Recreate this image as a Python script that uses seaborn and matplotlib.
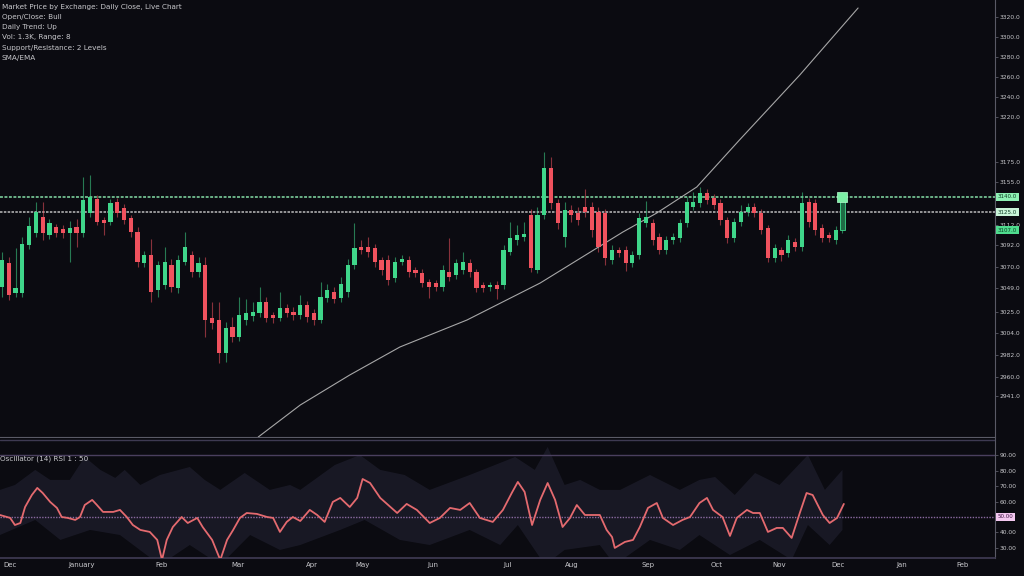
import matplotlib
matplotlib.use("Agg")
import matplotlib.pyplot as plt
import matplotlib.transforms as mtransforms
import numpy as np
import pandas as pd
import seaborn as sns

# candle data (one per session)
opens = [3050, 3074, 3044, 3044, 3092, 3104, 3120, 3102, 3110, 3108, 3104, 3110, 3104, 3124, 3138,
         3117, 3115, 3135, 3129, 3119, 3105, 3074, 3082, 3047, 3052, 3072, 3049, 3075, 3082, 3065,
         3072, 3019, 3017, 2984, 3010, 3000, 3017, 3021, 3024, 3035, 3022, 3019, 3029, 3025, 3022,
         3032, 3024, 3017, 3039, 3045, 3039, 3045, 3072, 3090, 3090, 3089, 3077, 3077, 3059, 3075,
         3077, 3067, 3064, 3055, 3054, 3050, 3065, 3062, 3067, 3074, 3065, 3052, 3050, 3052, 3052,
         3085, 3097, 3100, 3122, 3067, 3122, 3169, 3134, 3100, 3127, 3124, 3130, 3130, 3125, 3124,
         3077, 3087, 3087, 3074, 3082, 3114, 3114, 3100, 3087, 3097, 3099, 3114, 3130, 3134, 3144,
         3139, 3134, 3117, 3099, 3115, 3125, 3130, 3124, 3109, 3079, 3087, 3084, 3095, 3090, 3135,
         3134, 3109, 3102, 3097, 3107]
closes = [3077, 3042, 3049, 3093, 3111, 3125, 3104, 3114, 3104, 3104, 3109, 3104, 3137, 3140, 3115,
          3114, 3134, 3124, 3117, 3105, 3075, 3082, 3045, 3072, 3075, 3050, 3077, 3090, 3065, 3074,
          3017, 3014, 2984, 3009, 3000, 3022, 3024, 3025, 3035, 3019, 3019, 3029, 3024, 3022, 3032,
          3020, 3017, 3040, 3047, 3038, 3053, 3072, 3089, 3087, 3085, 3075, 3067, 3057, 3075, 3078,
          3065, 3064, 3054, 3050, 3050, 3067, 3060, 3074, 3075, 3065, 3049, 3049, 3052, 3048, 3087,
          3099, 3102, 3103, 3069, 3122, 3169, 3134, 3114, 3127, 3122, 3117, 3125, 3107, 3090, 3079,
          3087, 3084, 3074, 3082, 3119, 3120, 3097, 3087, 3097, 3100, 3114, 3135, 3135, 3144, 3137,
          3132, 3117, 3099, 3115, 3125, 3130, 3124, 3107, 3079, 3089, 3082, 3097, 3090, 3134, 3115,
          3107, 3099, 3099, 3107, 3140]
highs = [3085, 3080, 3089, 3100, 3120, 3135, 3135, 3118, 3113, 3112, 3116, 3118, 3160, 3162, 3142,
         3120, 3138, 3139, 3133, 3122, 3110, 3086, 3098, 3076, 3090, 3078, 3082, 3105, 3086, 3080,
         3080, 3035, 3035, 3015, 3020, 3040, 3038, 3035, 3050, 3040, 3025, 3045, 3033, 3030, 3042,
         3036, 3028, 3055, 3053, 3050, 3060, 3078, 3114, 3097, 3100, 3093, 3080, 3082, 3080, 3082,
         3081, 3070, 3068, 3058, 3057, 3072, 3099, 3078, 3085, 3078, 3068, 3055, 3055, 3056, 3092,
         3115, 3112, 3115, 3128, 3130, 3185, 3180, 3138, 3135, 3132, 3130, 3148, 3135, 3130, 3128,
         3092, 3090, 3091, 3086, 3124, 3136, 3118, 3104, 3101, 3104, 3118, 3140, 3145, 3150, 3148,
         3143, 3138, 3120, 3119, 3132, 3134, 3134, 3128, 3112, 3093, 3090, 3102, 3099, 3145, 3139,
         3138, 3113, 3105, 3111, 3145]
lows = [3040, 3037, 3040, 3040, 3088, 3100, 3097, 3098, 3100, 3099, 3075, 3090, 3100, 3120, 3112,
        3102, 3112, 3120, 3113, 3100, 3070, 3070, 3035, 3040, 3048, 3045, 3044, 3072, 3060, 3060,
        3000, 3008, 2974, 2975, 2995, 2996, 3012, 3016, 3020, 3015, 3014, 3016, 3020, 3017, 3018,
        3015, 3012, 3014, 3035, 3034, 3035, 3040, 3068, 3083, 3080, 3070, 3062, 3052, 3055, 3072,
        3060, 3060, 3050, 3039, 3046, 3046, 3056, 3058, 3063, 3060, 3045, 3045, 3046, 3038, 3048,
        3082, 3092, 3096, 3065, 3064, 3118, 3128, 3108, 3090, 3115, 3112, 3120, 3100, 3085, 3072,
        3073, 3080, 3066, 3070, 3078, 3110, 3092, 3083, 3083, 3093, 3095, 3110, 3127, 3130, 3133,
        3128, 3112, 3094, 3095, 3111, 3121, 3120, 3103, 3075, 3075, 3076, 3080, 3086, 3086, 3110,
        3102, 3095, 3095, 3093, 3104]

resistance = 3140
support = 3125

# rising curve drawn across the chart
trend_x = [37.8, 44.0, 51.3, 58.7, 68.6, 79.4, 91.6, 96.6, 102.5, 108.8, 117.7, 126.3]
trend_y = [2900, 2932, 2962, 2990, 3017, 3054, 3105, 3124, 3150, 3197, 3262, 3329]

price_ticks = [3320, 3300, 3280, 3260, 3240, 3220, 3175, 3155, 3112, 3092, 3070, 3049,
               3025, 3004, 2982, 2960, 2941]

# oscillator pane
osc_x = [-0.3, 1.2, 1.9, 2.7, 3.4, 4.4, 5.2, 6.0, 7.1, 8.1, 8.8, 9.7, 10.8, 11.5, 12.2, 13.3,
         14.0, 14.9, 16.4, 17.4, 18.4, 19.3, 20.4, 21.8, 22.9, 23.6, 24.3, 25.2, 26.5, 27.4, 28.8,
         29.6, 31.0, 32.2, 33.2, 34.1, 35.1, 36.1, 37.6, 39.1, 40.0, 41.0, 42.0, 42.9, 44.0, 45.4,
         46.5, 47.6, 48.8, 49.9, 51.3, 52.4, 53.2, 54.3, 55.8, 58.3, 59.7, 61.2, 63.1, 64.6, 66.1,
         67.6, 69.0, 70.5, 72.4, 73.9, 75.2, 76.1, 77.1, 78.2, 79.4, 80.5, 81.6, 82.7, 83.8, 84.8,
         86.0, 88.2, 89.2, 90.0, 90.4, 91.9, 93.1, 94.1, 95.3, 96.6, 97.5, 99.0, 100.4, 101.5, 102.9,
         104.0, 104.9, 106.3, 107.4, 108.4, 109.9, 110.8, 111.8, 113.0, 114.3, 115.2, 116.5, 117.7,
         118.7, 119.6, 121.1, 122.1, 123.2, 124.2]
osc_val = [51.3, 49.4, 44.8, 46.1, 56.5, 64.3, 68.9, 65.6, 59.8, 55.9, 50.0, 49.4, 48.1, 50.0, 57.8,
           61.1, 57.8, 53.3, 53.3, 54.6, 50.0, 44.8, 41.6, 40.3, 35.1, 22.1, 35.1, 43.5, 50.0, 46.1,
           49.4, 43.5, 35.1, 22.1, 35.1, 41.6, 49.4, 52.6, 52.0, 50.0, 49.4, 40.3, 46.8, 50.0, 47.4,
           54.6, 51.3, 46.8, 59.8, 62.4, 56.5, 62.4, 74.7, 72.1, 62.4, 52.6, 58.5, 54.6, 46.1, 49.4,
           55.9, 54.6, 59.1, 49.4, 46.8, 54.6, 65.6, 72.8, 66.3, 44.8, 61.1, 72.1, 61.1, 43.5, 49.4,
           57.8, 51.3, 51.3, 41.6, 37.0, 29.9, 33.8, 35.1, 43.5, 55.9, 59.1, 49.4, 44.8, 48.1, 50.0,
           59.1, 62.4, 54.6, 50.0, 37.7, 49.4, 54.6, 52.6, 52.6, 40.3, 42.9, 42.9, 36.4, 52.6, 65.6,
           64.3, 51.3, 46.1, 49.4, 58.5]

band_up_x = [-0.3, 1.9, 4.9, 7.1, 10.0, 12.2, 14.5, 16.7, 18.1, 20.4, 23.3, 27.7, 29.9, 32.2, 35.8,
             39.5, 42.5, 44.0, 49.1, 52.8, 55.8, 59.4, 63.1, 69.0, 75.7, 78.6, 80.5, 83.0, 85.3,
             88.2, 91.2, 95.6, 100.0, 102.9, 105.2, 108.1, 111.1, 114.7, 118.9, 121.4, 124.0]
band_up = [67.6, 70.8, 80.6, 74.1, 74.1, 89.0, 80.6, 75.4, 80.6, 70.8, 77.3, 82.5, 74.1, 67.6, 78.6,
           67.6, 70.8, 67.6, 83.8, 90.3, 80.6, 77.3, 67.6, 77.3, 89.0, 80.6, 95.5, 70.8, 74.1,
           67.6, 67.6, 77.3, 67.6, 74.1, 76.0, 64.3, 78.6, 70.8, 90.3, 67.6, 80.6]
band_lo_x = [-0.3, 4.9, 8.6, 13.0, 17.4, 23.3, 27.7, 32.2, 36.6, 41.0, 44.0, 49.9, 53.5, 58.7, 63.1,
             69.0, 73.5, 76.1, 80.1, 83.0, 88.2, 90.4, 95.6, 100.0, 102.9, 107.4, 111.8, 116.5,
             118.9, 122.1, 124.0]
band_lo = [38.3, 48.1, 35.1, 41.6, 38.3, 18.8, 31.8, 18.8, 38.3, 28.6, 31.8, 41.6, 48.1, 35.1, 31.8,
           41.6, 31.8, 44.8, 18.8, 28.6, 31.8, 18.8, 35.1, 28.6, 38.3, 25.3, 35.1, 22.1, 44.8,
           31.8, 41.6]

osc_ticks = [90, 80, 70, 60, 40, 30]

date_pos = [1.2, 11.8, 23.6, 34.8, 45.7, 53.2, 63.6, 74.6, 84.1, 95.3, 105.5, 114.7, 123.3, 132.7, 141.7]
date_labels = ["Dec", "January", "Feb", "Mar", "Apr", "May", "Jun", "Jul", "Aug", "Sep", "Oct",
               "Nov", "Dec", "Jan", "Feb"]

info_lines = ["Market Price by Exchange: Daily Close, Live Chart",
              "Open/Close: Bull",
              "Daily Trend: Up",
              "Vol: 1.3K, Range: 8",
              "Support/Resistance: 2 Levels",
              "SMA/EMA"]

BG = "#0b0b11"
GREEN = "#3fd68a"
RED = "#f0525e"
AXIS = "#5a5a66"
TXT = "#c8c8cc"

sns.set_theme(style="dark", rc={"axes.facecolor": BG, "figure.facecolor": BG})
plt.rcParams["font.family"] = ["DejaVu Sans"]

df = pd.DataFrame({"open": opens, "close": closes, "high": highs, "low": lows})
df["idx"] = np.arange(len(df))
df["up"] = df["close"] >= df["open"]

fig = plt.figure(figsize=(10.24, 5.76), dpi=100)
ax = fig.add_axes([0.0, 1 - 437 / 576, 995 / 1024, 437 / 576])
ax2 = fig.add_axes([0.0, 1 - 558 / 576, 995 / 1024, 120 / 576])

# ---- price pane ----
colors = np.where(df["up"], GREEN, RED)
body_lo = df[["open", "close"]].min(axis=1)
body_h = (df["close"] - df["open"]).abs().clip(lower=1.5)
ax.vlines(df["idx"], df["low"], df["high"], color=colors, linewidth=0.8, alpha=0.55, zorder=2)
ax.bar(df["idx"], body_h, bottom=body_lo, width=0.62, color=colors, linewidth=0, zorder=3)

# last candle, live
last = df.iloc[-1]
ax.bar([last["idx"]], [last["close"] - last["open"]], bottom=[last["open"]], width=0.75,
       color="#1f6b45", edgecolor=GREEN, linewidth=0.6, zorder=4)
ax.scatter([last["idx"]], [last["close"]], s=55, marker="s", color="#7df0a6", zorder=5,
           edgecolors="#b6ffd0", linewidths=0.5)

ax.axhline(resistance, color="#7ccf9c", linewidth=1.4, linestyle=(0, (1.5, 0.8)), alpha=0.85, zorder=1)
ax.axhline(support, color="#d8d8d8", linewidth=1.2, linestyle=(0, (1.5, 0.8)), alpha=0.8, zorder=1)

ax.plot(trend_x, trend_y, color="#b8b8b8", linewidth=0.8, alpha=0.9, zorder=2)

ax.set_xlim(-0.3, 146.5)
ax.set_ylim(2900, 3337)
ax.set_xticks([])
ax.yaxis.tick_right()
ax.set_yticks(price_ticks)
ax.set_yticklabels([f"{v:.1f}" for v in price_ticks], fontsize=4.3, color=TXT)
ax.tick_params(axis="y", length=2, width=0.6, color=AXIS, pad=1.5)
for side in ["top", "left"]:
    ax.spines[side].set_visible(False)
ax.spines["right"].set_color(AXIS)
ax.spines["bottom"].set_color(AXIS)
ax.spines["right"].set_linewidth(0.8)
ax.spines["bottom"].set_linewidth(0.8)

trans = mtransforms.blended_transform_factory(ax.transAxes, ax.transData)
box_kw = dict(transform=trans, fontsize=4, color="#0b3a22", va="center", ha="left", clip_on=False)
ax.text(1.003, resistance, f"{resistance:.1f}",
        bbox=dict(boxstyle="square,pad=0.3", fc="#8ef0b4", ec="none"), **box_kw)
ax.text(1.003, support, f"{support:.1f}",
        bbox=dict(boxstyle="square,pad=0.3", fc="#c9f5d9", ec="none"), **box_kw)
ax.text(1.003, last["open"], f"{last['open']:.1f}",
        bbox=dict(boxstyle="square,pad=0.3", fc="#4fdc8e", ec="none"), **box_kw)

for i, line in enumerate(info_lines):
    ax.text(0.002, 0.985 - i * 0.0235, line, transform=ax.transAxes, fontsize=5.2, color=TXT,
            va="center", ha="left")

# ---- oscillator pane ----
poly_x = list(band_up_x) + list(band_lo_x[::-1])
poly_y = list(band_up) + list(band_lo[::-1])
ax2.fill(poly_x, poly_y, color="#1a1a27", alpha=0.9, linewidth=0, zorder=1)

ax2.axhline(100, color="#3e3a52", linewidth=1.0, zorder=1)
ax2.axhline(90, color="#4a3f5e", linewidth=1.0, zorder=1)
ax2.axhline(50, color="#8a6aa0", linewidth=1.0, linestyle=(0, (1, 1)), zorder=2)

sns.lineplot(x=osc_x, y=osc_val, ax=ax2, sort=False, color="#e46a6f", linewidth=1.3, zorder=3)

ax2.set_xlim(-0.3, 146.5)
ax2.set_ylim(23.35, 101.35)
ax2.yaxis.tick_right()
ax2.set_yticks(osc_ticks)
ax2.set_yticklabels([f"{v:.2f}" for v in osc_ticks], fontsize=4.3, color=TXT)
ax2.set_xticks(date_pos)
ax2.set_xticklabels(date_labels, fontsize=5, color=TXT)
ax2.tick_params(axis="x", length=0, pad=3)
ax2.tick_params(axis="y", length=2, width=0.6, color=AXIS, pad=1.5)
for side in ["top", "left"]:
    ax2.spines[side].set_visible(False)
ax2.spines["right"].set_color(AXIS)
ax2.spines["bottom"].set_color("#3e3a52")
ax2.spines["right"].set_linewidth(0.8)

trans2 = mtransforms.blended_transform_factory(ax2.transAxes, ax2.transData)
ax2.text(1.003, 50, "50.00", transform=trans2, fontsize=4, color="#3a1040", va="center", ha="left",
         clip_on=False, bbox=dict(boxstyle="square,pad=0.3", fc="#f3c8f0", ec="none"))
ax2.text(0.0, 0.83, "Oscillator (14) RSI 1 : 50", transform=ax2.transAxes, fontsize=5.2,
         color=TXT, va="center", ha="left")

fig.savefig("out.png", dpi=100, facecolor=BG)
